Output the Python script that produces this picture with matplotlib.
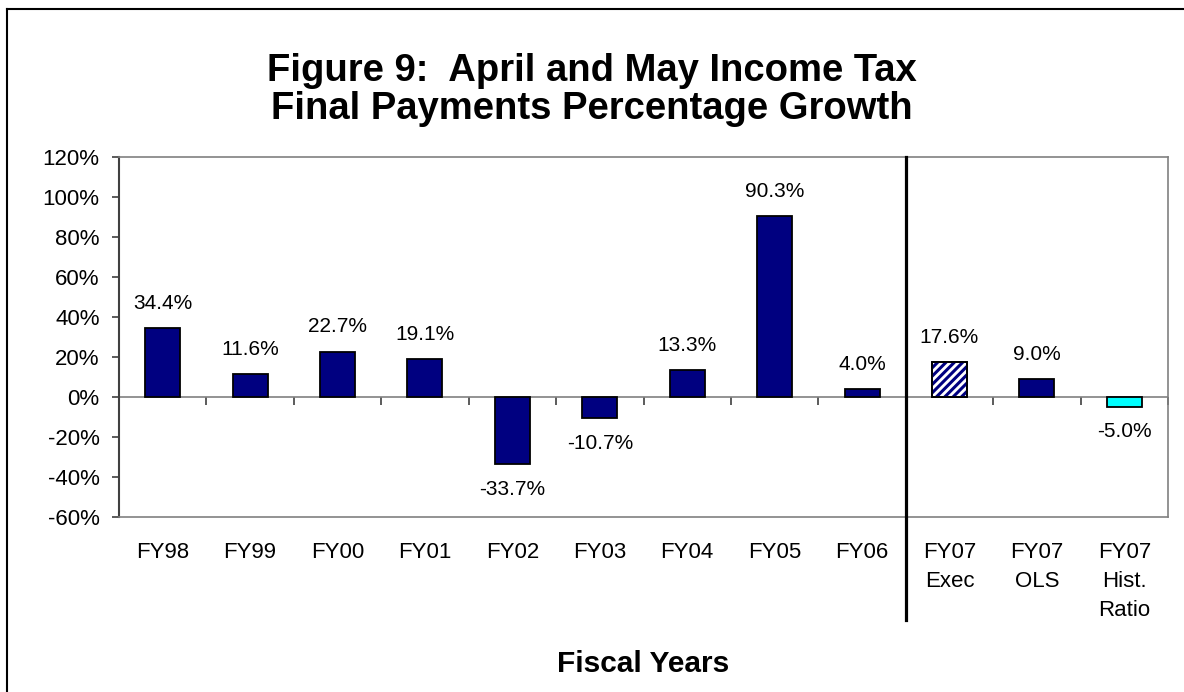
import matplotlib.pyplot as plt
from matplotlib.lines import Line2D
from matplotlib.transforms import blended_transform_factory

plt.rcParams['font.family'] = ['Liberation Sans', 'DejaVu Sans']
plt.rcParams['hatch.linewidth'] = 2.2

years = ['FY98', 'FY99', 'FY00', 'FY01', 'FY02', 'FY03', 'FY04', 'FY05', 'FY06',
         'FY07\nExec', 'FY07\nOLS', 'FY07\nHist.\nRatio']
growth = [34.4, 11.6, 22.7, 19.1, -33.7, -10.7, 13.3, 90.3, 4.0, 17.6, 9.0, -5.0]
n_actual = 9  # FY98..FY06 are actuals, the rest are FY07 forecasts

navy = '#000080'
x = list(range(len(years)))

fig = plt.figure(figsize=(11.84, 6.92), dpi=100)
ax = fig.add_axes([119 / 1184, 1 - 517 / 692, 1049 / 1184, 360 / 692])

face = [navy] * len(years)
face[n_actual] = 'white'
face[n_actual + 2] = '#00FFFF'
bars = ax.bar(x, growth, width=0.4, color=face, edgecolor='black', linewidth=1.3, zorder=3)

# FY07 Exec bar gets navy diagonal stripes
ax.bar(x[n_actual], growth[n_actual], width=0.4, color='none', edgecolor=navy,
       hatch='////', linewidth=0, zorder=3)
ax.bar(x[n_actual], growth[n_actual], width=0.4, color='none', edgecolor='black',
       linewidth=1.3, zorder=4)

for xi, v in zip(x, growth):
    ax.annotate('%.1f%%' % v, (xi, v), xytext=(0, 11 if v >= 0 else -11),
                textcoords='offset points', ha='center',
                va='bottom' if v >= 0 else 'top', fontsize=15)

ax.set_xlim(-0.5, len(years) - 0.5)
ax.set_ylim(-60, 120)
ax.set_yticks(range(-60, 121, 20))
ax.set_yticklabels(['%d%%' % t for t in range(-60, 121, 20)])
ax.tick_params(axis='y', direction='out', length=5, width=1.2, pad=9,
               labelsize=16, color='#404040')

ax.set_xticks(x)
ax.set_xticklabels(years, fontsize=16, linespacing=1.5, va='top')
ax.tick_params(axis='x', length=0, pad=18)

for side in ['top', 'right', 'bottom']:
    ax.spines[side].set_color('#808080')
    ax.spines[side].set_linewidth(1.2)
ax.spines['left'].set_color('#404040')
ax.spines['left'].set_linewidth(1.5)

# zero line with category ticks
ax.axhline(0, color='#808080', linewidth=1.2, zorder=2)
zero_axis = ax.secondary_xaxis(1 / 3)
zero_axis.set_xticks([i + 0.5 for i in range(-1, len(years))])
zero_axis.set_xticklabels([])
zero_axis.tick_params(direction='out', length=6, width=1.2, color='#404040')
zero_axis.spines['bottom'].set_visible(False)
zero_axis.spines['top'].set_visible(False)

# divider between actuals and forecasts
trans = blended_transform_factory(ax.transData, ax.transAxes)
ax.plot([n_actual - 0.5, n_actual - 0.5], [1, -0.286], transform=trans,
        color='black', linewidth=2.3, clip_on=False, zorder=5)

ax.set_xlabel('Fiscal Years', fontsize=21.5, fontweight='bold')
ax.xaxis.set_label_coords(0.5, -0.37)

fig.text(0.5, 1 - 90 / 692, 'Figure 9:  April and May Income Tax\nFinal Payments Percentage Growth',
         ha='center', va='center', fontsize=27.5, fontweight='bold', linespacing=1.05)

# outer frame
fig.add_artist(Line2D([7 / 1184, 1], [1 - 9 / 692, 1 - 9 / 692], transform=fig.transFigure,
                      color='black', linewidth=1.5))
fig.add_artist(Line2D([7 / 1184, 7 / 1184], [0, 1 - 9 / 692], transform=fig.transFigure,
                      color='black', linewidth=1.5))

fig.savefig('out.png', dpi=100)
